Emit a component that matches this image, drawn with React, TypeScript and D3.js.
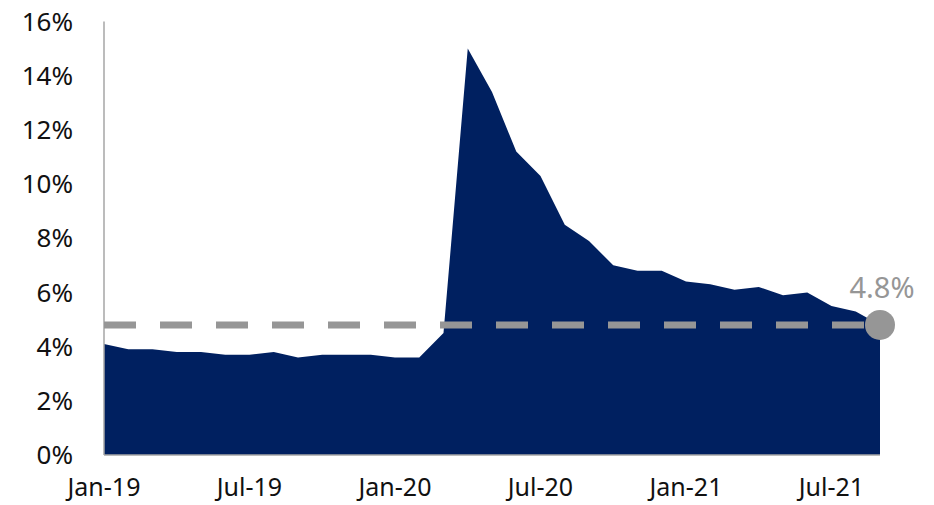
import React from "react";
import * as d3 from "d3";

const months = [
  "Jan-19","Feb-19","Mar-19","Apr-19","May-19","Jun-19","Jul-19","Aug-19","Sep-19","Oct-19","Nov-19","Dec-19",
  "Jan-20","Feb-20","Mar-20","Apr-20","May-20","Jun-20","Jul-20","Aug-20","Sep-20","Oct-20","Nov-20","Dec-20",
  "Jan-21","Feb-21","Mar-21","Apr-21","May-21","Jun-21","Jul-21","Aug-21","Sep-21",
];
const rates = [
  4.1, 3.9, 3.9, 3.8, 3.8, 3.7, 3.7, 3.8, 3.6, 3.7, 3.7, 3.7,
  3.6, 3.6, 4.5, 15.0, 13.4, 11.2, 10.3, 8.5, 7.9, 7.0, 6.8, 6.8,
  6.4, 6.3, 6.1, 6.2, 5.9, 6.0, 5.5, 5.3, 4.8,
];
const yTicks = [0, 2, 4, 6, 8, 10, 12, 14, 16];
const xTickLabels = ["Jan-19", "Jul-19", "Jan-20", "Jul-20", "Jan-21", "Jul-21"];
const latest = 4.8;

export default function App() {
  const W = 934, H = 505;
  const left = 104, right = 880, top = 21.5, bottom = 455;
  const x = d3.scaleLinear().domain([0, months.length - 1]).range([left, right]);
  const y = d3.scaleLinear().domain([0, 16]).range([bottom, top]);
  const area = d3.area<number>().x((_, i) => x(i)).y0(y(0)).y1((d) => y(d));
  const font = "'Noto Sans', 'Open Sans', sans-serif";
  return (
    <svg width={W} height={H} style={{ position: "absolute", left: 0, top: 0 }}>
      <rect width={W} height={H} fill="#fff" />
      <path d={area(rates) || ""} fill="#002060" />
      <line x1={left} x2={right} y1={y(0)} y2={y(0)} stroke="#a6a6a6" strokeWidth={1.5} />
      <line x1={left} x2={left} y1={top} y2={y(0)} stroke="#a6a6a6" strokeWidth={1.5} />
      {yTicks.map((t) => (
        <text key={t} x={73} y={y(t)} dy="0.35em" textAnchor="end" fontSize={26} fontFamily={font} fill="#111">
          {t}%
        </text>
      ))}
      {xTickLabels.map((lab) => {
        const i = months.indexOf(lab);
        return (
          <text key={lab} x={x(i)} y={487} dy="0.35em" textAnchor="middle" fontSize={25} fontFamily={font} fill="#111">
            {lab}
          </text>
        );
      })}
      <line x1={left} x2={x(months.length - 1)} y1={y(latest)} y2={y(latest)} stroke="#969696" strokeWidth={7} strokeDasharray="32 24" />
      <circle cx={x(months.length - 1)} cy={y(latest)} r={15} fill="#969696" />
      <text x={882} y={288} dy="0.35em" textAnchor="middle" fontSize={29} fontFamily={font} fill="#969696">
        {latest}%
      </text>
    </svg>
  );
}
